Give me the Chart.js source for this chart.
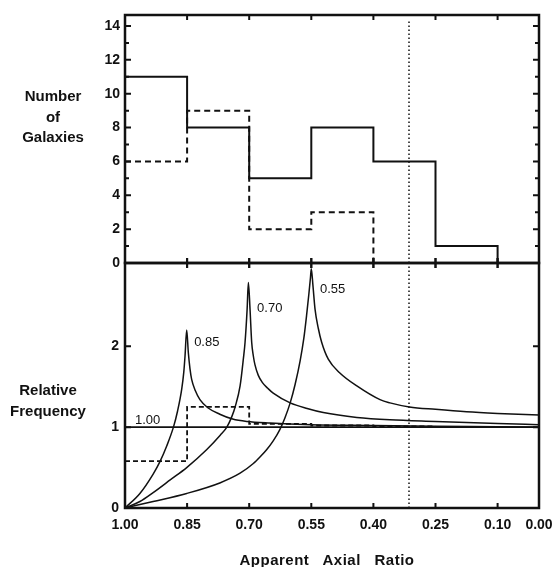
<!DOCTYPE html>
<html><head><meta charset="utf-8">
<script src="https://cdn.jsdelivr.net/npm/chart.js@4.4.0/dist/chart.umd.min.js"></script>
<style>
html,body{margin:0;padding:0;background:#fff;width:553px;height:567px;overflow:hidden}
#wrap{position:relative;width:553px;height:567px}
canvas{position:absolute;left:0;top:0}
.lbl{position:absolute;font-family:"Liberation Sans",Arial,sans-serif;font-weight:bold;font-size:15px;color:#111;text-align:center;line-height:20.5px;white-space:nowrap}
</style></head>
<body><div id="wrap">
<canvas id="topChart" width="553" height="567"></canvas>
<canvas id="botChart" width="553" height="567"></canvas>
<div class="lbl" style="left:3px;top:86px;width:100px">Number<br>of<br>Galaxies</div>
<div class="lbl" style="left:0px;top:380px;width:96px">Relative<br>Frequency</div>
<div class="lbl" style="left:227px;top:550px;width:200px;word-spacing:9px;letter-spacing:0.5px">Apparent Axial Ratio</div>
</div>
<script>
// ---- data ----
const binEdges = [1.00, 0.85, 0.70, 0.55, 0.40, 0.25, 0.10];
const countsSolid = [11, 8, 5, 8, 6, 1, 0];
const countsDashed = [6, 9, 2, 3, 0];
const relFreqDashed = [0.58, 1.25, 1.04, 1.02, 1.01, 1.01];

const curve085V = [1.000, 0.964, 0.932, 0.915, 0.899, 0.883, 0.873, 0.863, 0.858, 0.855, 0.851, 0.847, 0.843, 0.839, 0.830, 0.819, 0.800, 0.771, 0.740, 0.706, 0.650, 0.550, 0.400, 0.250, 0.100, 0.000];
const curve085F = [0, 0.18, 0.42, 0.58, 0.77, 1.00, 1.20, 1.47, 1.68, 1.88, 2.20, 1.92, 1.72, 1.59, 1.45, 1.34, 1.24, 1.16, 1.10, 1.07, 1.05, 1.03, 1.02, 1.01, 1.005, 1.0];

const curve070V = [1.000, 0.964, 0.932, 0.890, 0.851, 0.803, 0.770, 0.754, 0.742, 0.734, 0.722, 0.714, 0.710, 0.705, 0.702, 0.698, 0.694, 0.690, 0.686, 0.678, 0.668, 0.655, 0.642, 0.601, 0.560, 0.521, 0.440, 0.360, 0.250, 0.100, 0.000];
const curve070F = [0, 0.08, 0.19, 0.35, 0.50, 0.72, 0.90, 1.00, 1.13, 1.25, 1.51, 1.85, 2.05, 2.46, 2.79, 2.46, 2.05, 1.88, 1.77, 1.64, 1.55, 1.48, 1.42, 1.30, 1.23, 1.18, 1.12, 1.09, 1.07, 1.045, 1.03];

const curve055V = [1.000, 0.932, 0.851, 0.771, 0.722, 0.690, 0.674, 0.658, 0.642, 0.626, 0.614, 0.601, 0.589, 0.577, 0.568, 0.561, 0.556, 0.552, 0.550, 0.546, 0.541, 0.533, 0.525, 0.509, 0.481, 0.440, 0.384, 0.360, 0.313, 0.250, 0.175, 0.100, 0.000];
const curve055F = [0, 0.08, 0.18, 0.31, 0.43, 0.55, 0.63, 0.72, 0.83, 0.97, 1.11, 1.30, 1.53, 1.82, 2.10, 2.40, 2.64, 2.85, 2.96, 2.75, 2.46, 2.22, 2.05, 1.84, 1.67, 1.51, 1.34, 1.30, 1.25, 1.22, 1.19, 1.17, 1.15];

const curve100V = [1.00, 0.00];
const curve100F = [1, 1];

const dottedRatio = 0.314;

const xTickValues = [1.00, 0.85, 0.70, 0.55, 0.40, 0.25, 0.10, 0.00];
const topYLabels = [0, 2, 4, 6, 8, 10, 12, 14];
const topYMinor = [1, 3, 5, 7, 9, 11, 13];
const botYLabels = [0, 1, 2];

const curveLabelText = ['0.85', '0.70', '0.55', '1.00'];
// label anchors (axial ratio, relative frequency)
const curveLabelV = [0.833, 0.681, 0.529, 0.976];
const curveLabelF = [2.05, 2.47, 2.70, 1.08];

// ---- helpers ----
const pts = (xs, ys) => xs.map((x, i) => ({x, y: ys[i]}));
const INK = '#111';
const tickFont = {family: '"Liberation Sans", Arial, sans-serif', size: 14, weight: 'bold'};
const TOP_MAX = 14.65, BOT_MAX = 3.03;

const frameTicks = {
  id: 'frameTicks',
  afterDatasetsDraw(chart, args, o) {
    const {ctx, chartArea: a} = chart;
    const xs = chart.scales.x, ys = chart.scales.y;
    ctx.save();
    ctx.strokeStyle = INK;
    ctx.lineWidth = 2;
    ctx.beginPath();
    o.yMajor.forEach(v => {
      const py = ys.getPixelForValue(v);
      ctx.moveTo(a.left, py); ctx.lineTo(a.left + 6, py);
      ctx.moveTo(a.right, py); ctx.lineTo(a.right - 6, py);
    });
    o.yMinor.forEach(v => {
      const py = ys.getPixelForValue(v);
      ctx.moveTo(a.left, py); ctx.lineTo(a.left + 4, py);
      ctx.moveTo(a.right, py); ctx.lineTo(a.right - 4, py);
    });
    xTickValues.forEach(v => {
      if (v === 1 || v === 0) return;
      const px = xs.getPixelForValue(v);
      ctx.moveTo(px, a.top - o.topOut); ctx.lineTo(px, a.top + 5);
      ctx.moveTo(px, a.bottom + o.botOut); ctx.lineTo(px, a.bottom - 5);
    });
    ctx.stroke();
    ctx.lineWidth = 2.5;
    ctx.strokeRect(a.left, a.top, a.right - a.left, a.bottom - a.top);
    if (o.labels) {
      ctx.fillStyle = INK;
      ctx.font = '13px "Liberation Sans", Arial, sans-serif';
      ctx.textAlign = 'left';
      ctx.textBaseline = 'middle';
      curveLabelText.forEach((t, i) => {
        ctx.fillText(t, xs.getPixelForValue(curveLabelV[i]), ys.getPixelForValue(curveLabelF[i]));
      });
    }
    ctx.restore();
  }
};

const lineDs = (data, extra) => Object.assign({
  data, borderColor: INK, borderWidth: 1.5, pointRadius: 0, fill: false, tension: 0
}, extra);

const xScaleBase = {
  type: 'linear', min: 0, max: 1, reverse: true,
  grid: {display: false, drawTicks: false}, border: {display: false}
};

// ---- top chart ----
new Chart(document.getElementById('topChart'), {
  type: 'line',
  data: {datasets: [
    lineDs(pts(binEdges, countsSolid), {stepped: true, borderWidth: 2}),
    lineDs(pts(binEdges.slice(0, countsDashed.length), countsDashed), {stepped: true, borderWidth: 2, borderDash: [6, 4]}),
    lineDs([{x: dottedRatio, y: 0}, {x: dottedRatio, y: 14.35}], {borderWidth: 1.5, borderDash: [1.5, 2.5]})
  ]},
  options: {
    responsive: false, animation: false, events: [],
    layout: {padding: {left: 85, right: 14, top: 15, bottom: 304}},
    plugins: {legend: {display: false}, tooltip: {enabled: false},
      frameTicks: {yMajor: topYLabels, yMinor: topYMinor, topOut: 0, botOut: 5, labels: false}},
    scales: {
      x: Object.assign({}, xScaleBase, {display: false}),
      y: {
        type: 'linear', min: 0, max: TOP_MAX,
        grid: {display: false, drawTicks: false}, border: {display: false},
        afterFit: s => { s.width = 40; },
        afterBuildTicks: s => { s.ticks = topYLabels.map(v => ({value: v})); },
        ticks: {color: INK, font: tickFont, padding: 5, callback: v => String(v)}
      }
    }
  },
  plugins: [frameTicks]
});

// ---- bottom chart ----
new Chart(document.getElementById('botChart'), {
  type: 'line',
  data: {datasets: [
    lineDs(pts(curve085V, curve085F), {cubicInterpolationMode: 'monotone'}),
    lineDs(pts(curve070V, curve070F), {cubicInterpolationMode: 'monotone'}),
    lineDs(pts(curve055V, curve055F), {cubicInterpolationMode: 'monotone'}),
    lineDs(pts(curve100V, curve100F), {borderWidth: 1.6}),
    lineDs(pts(binEdges.slice(0, relFreqDashed.length), relFreqDashed), {stepped: true, borderWidth: 1.8, borderDash: [5, 3]}),
    lineDs([{x: dottedRatio, y: 0}, {x: dottedRatio, y: BOT_MAX}], {borderWidth: 1.5, borderDash: [1.5, 2.5]})
  ]},
  options: {
    responsive: false, animation: false, events: [],
    layout: {padding: {left: 85, right: 14, top: 263, bottom: 29}},
    plugins: {legend: {display: false}, tooltip: {enabled: false},
      frameTicks: {yMajor: botYLabels, yMinor: [], topOut: 5, botOut: 0, labels: true}},
    scales: {
      x: Object.assign({}, xScaleBase, {
        afterFit: s => { s.height = 30; s.paddingLeft = 0; s.paddingRight = 0; },
        afterBuildTicks: s => { s.ticks = xTickValues.map(v => ({value: v})); },
        ticks: {color: INK, font: tickFont, padding: 9, maxRotation: 0, autoSkip: false,
          callback: v => Number(v).toFixed(2)}
      }),
      y: {
        type: 'linear', min: 0, max: BOT_MAX,
        grid: {display: false, drawTicks: false}, border: {display: false},
        afterFit: s => { s.width = 40; },
        afterBuildTicks: s => { s.ticks = botYLabels.map(v => ({value: v})); },
        ticks: {color: INK, font: tickFont, padding: 6, callback: v => String(v)}
      }
    }
  },
  plugins: [frameTicks]
});
</script>
</body></html>
